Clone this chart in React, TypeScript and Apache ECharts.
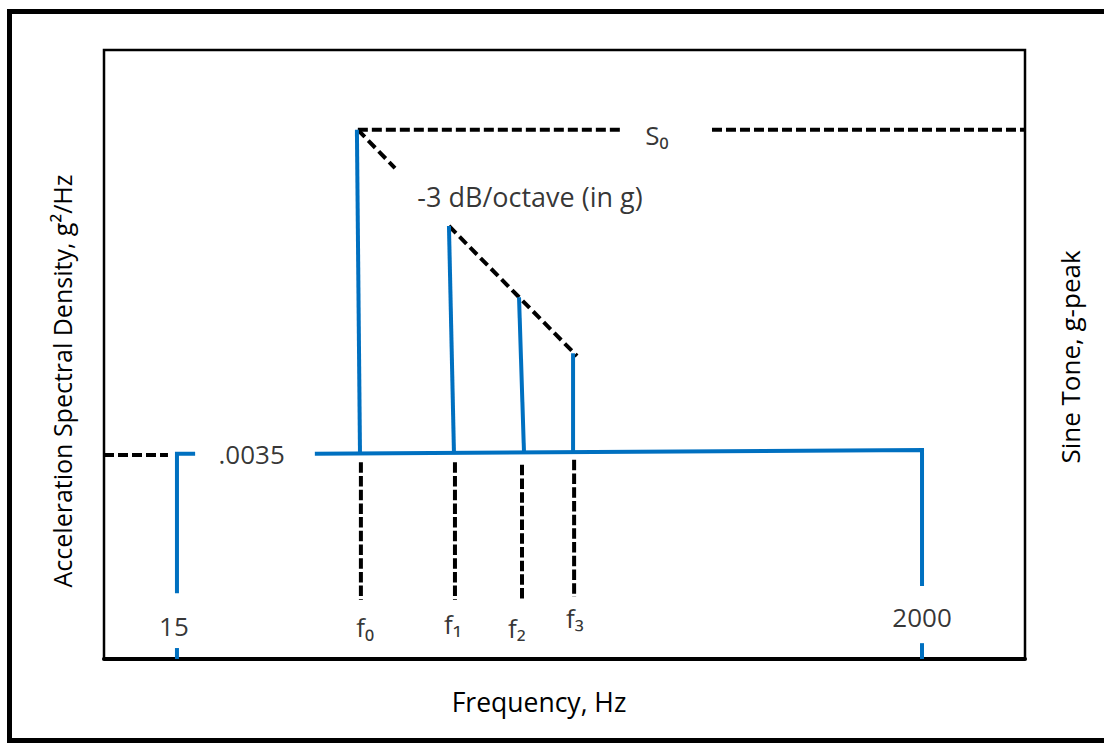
import React, { useEffect, useRef } from "react";
import * as echarts from "echarts";

// Axis domains: x = frequency (Hz, log scale), y = relative level (0..100 of frame height)
const FREQ_MIN = 9.29;
const FREQ_MAX = 3933;
const LEVEL_MIN = 0;
const LEVEL_MAX = 100;

// Random vibration background (blue): ASD .0035 g²/Hz from 15 Hz to 2000 Hz
const asdLeftCorner = [[16.9, 33.7], [15, 33.7], [15, 10.8]];
const asdLeftStub = [[15, 1.8], [15, 0]];
const asdMain = [[37.1, 33.7], [2000, 34.3], [2000, 12.0]];
const asdRightStub = [[2000, 2.6], [2000, 0]];
const asdLeftDash = [[9.29, 33.5], [14.14, 33.5]];

// Sine tones f0..f3 (blue verticals)
const toneTop = [[48.9, 86.9], [89.5, 71.1], [141.8, 59.4], [202.2, 50.2]];
const toneBase = [[49.9, 33.8], [92.5, 33.8], [146.5, 34.0], [202.2, 34.0]];
// Dashed frequency markers below the baseline
const markerTop = [[50.2, 32.3], [93.1, 32.3], [144.6, 31.9], [203.6, 32.7]];
const markerBottom = [[50.2, 9.7], [93.1, 9.7], [144.6, 9.4], [203.6, 10.2]];

// S0 level and -3 dB/octave slopes (black dashed)
const s0LineA = [[49.2, 86.9], [278.9, 86.9]];
const s0LineB = [[503.5, 86.9], [3933, 86.9]];
const slopeShort = [[49.2, 86.9], [62.8, 80.6]];
const slopeLong = [[89.5, 71.1], [207.5, 49.75]];

// Labels placed in data space
const labelTexts = ["15", "f₀", "f₁", "f₂", "f₃", "2000", ".0035", "S₀", "-3 dB/octave (in g)"];
const labelPos = [
  [14.7, 5.4],
  [51.6, 5.3],
  [91.9, 5.7],
  [139.9, 5.1],
  [204.8, 6.7],
  [2000, 6.9],
  [24.5, 33.7],
  [350.9, 86.0],
  [152.4, 76.0],
];
const labelSizes = [26, 26, 26, 26, 26, 26, 26, 26, 27];

const xTitle = "Frequency, Hz";
const yTitleLeft = "Acceleration Spectral Density, g²/Hz";
const yTitleRight = "Sine Tone, g-peak";

const BLUE = "#0070C0";
const FONT = '"Open Sans", "Noto Sans", sans-serif';

function seg(data: number[][], color: string, width: number, dash?: number[]) {
  return {
    type: "line",
    data,
    symbol: "none",
    silent: true,
    lineStyle: dash
      ? { color, width, type: dash, cap: "butt" }
      : { color, width, cap: "butt", join: "miter" },
  };
}

export default function App() {
  const ref = useRef<HTMLDivElement>(null);
  useEffect(() => {
    if (!ref.current) return;
    const chart = echarts.init(ref.current, undefined, { renderer: "svg" });
    const series: any[] = [];
    series.push(seg(asdLeftDash, "#000", 4, [10, 4]));
    series.push(seg(s0LineA, "#000", 4, [10, 4]));
    series.push(seg(s0LineB, "#000", 4, [10, 4]));
    series.push(seg(slopeShort, "#000", 4, [10, 5]));
    series.push(seg(slopeLong, "#000", 4, [10, 5]));
    for (let i = 0; i < markerTop.length; i++) {
      series.push(seg([markerTop[i], markerBottom[i]], "#000", 4, [10.5, 3.2]));
    }
    series.push(seg(asdLeftCorner, BLUE, 4));
    series.push(seg(asdLeftStub, BLUE, 4));
    series.push(seg(asdMain, BLUE, 4));
    series.push(seg(asdRightStub, BLUE, 4));
    for (let i = 0; i < toneTop.length; i++) {
      series.push(seg([toneTop[i], toneBase[i]], BLUE, 4));
    }
    series.push({
      type: "scatter",
      symbolSize: 0,
      silent: true,
      data: labelTexts.map((t, i) => ({
        name: t,
        value: labelPos[i],
        label: { fontSize: labelSizes[i] },
      })),
      label: {
        show: true,
        position: "inside",
        formatter: (p: any) => p.name,
        color: "#000",
        fontSize: 26,
        fontFamily: FONT,
      },
    });

    chart.setOption({
      animation: false,
      backgroundColor: "#fff",
      grid: {
        left: 104,
        right: 79,
        top: 50,
        bottom: 85,
        show: true,
        borderColor: "#000",
        borderWidth: 2.5,
      },
      xAxis: {
        type: "log",
        logBase: 10,
        min: FREQ_MIN,
        max: FREQ_MAX,
        axisLine: { show: true, lineStyle: { color: "#000", width: 4 } },
        axisTick: { show: false },
        axisLabel: { show: false },
        splitLine: { show: false },
      },
      yAxis: {
        type: "value",
        min: LEVEL_MIN,
        max: LEVEL_MAX,
        axisLine: { show: false },
        axisTick: { show: false },
        axisLabel: { show: false },
        splitLine: { show: false },
      },
      graphic: [
        {
          type: "rect",
          silent: true,
          shape: { x: 9.5, y: 11.5, width: 1120, height: 729 },
          style: { fill: "none", stroke: "#000", lineWidth: 5 },
        },
        {
          type: "text",
          x: 539,
          y: 702,
          silent: true,
          style: {
            text: xTitle,
            font: `26.5px ${FONT}`,
            fill: "#000",
            textAlign: "center",
            textVerticalAlign: "middle",
          },
        },
        {
          type: "text",
          x: 62,
          y: 381,
          rotation: Math.PI / 2,
          silent: true,
          style: {
            text: yTitleLeft,
            font: `25px ${FONT}`,
            fill: "#000",
            textAlign: "center",
            textVerticalAlign: "middle",
          },
        },
        {
          type: "text",
          x: 1070,
          y: 357,
          rotation: Math.PI / 2,
          silent: true,
          style: {
            text: yTitleRight,
            font: `26px ${FONT}`,
            fill: "#000",
            textAlign: "center",
            textVerticalAlign: "middle",
          },
        },
      ],
      series,
    });
    return () => chart.dispose();
  }, []);
  return (
    <div
      ref={ref}
      style={{ position: "fixed", left: 0, top: 0, width: 1104, height: 744 }}
    />
  );
}
